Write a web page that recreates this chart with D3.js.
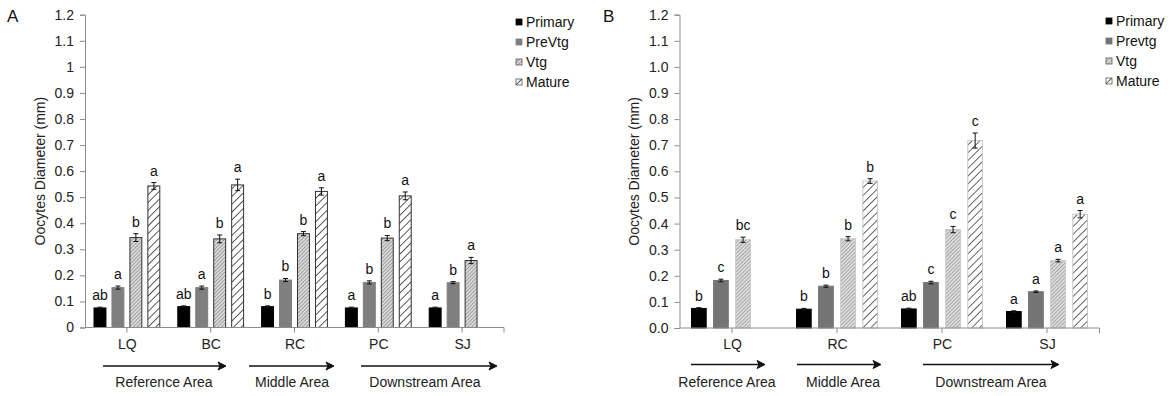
<!DOCTYPE html>
<html>
<head>
<meta charset="utf-8">
<script src="https://cdn.jsdelivr.net/npm/d3@7"></script>
<style>
  body { margin: 0; background: #fff; }
  svg { display: block; font-family: "Liberation Sans", Arial, sans-serif; }
</style>
</head>
<body>
<svg id="chart" width="1170" height="396"></svg>
<script>
// ---- Panel A: five sites ----
const sitesA = ["LQ", "BC", "RC", "PC", "SJ"];
const stagesA = ["Primary", "PreVtg", "Vtg", "Mature"];
const primaryA = [0.075, 0.080, 0.080, 0.075, 0.075];
const preVtgA  = [0.153, 0.153, 0.182, 0.173, 0.172];
const vtgA     = [0.345, 0.340, 0.360, 0.343, 0.257];
const matureA  = [0.543, 0.547, 0.522, 0.505, null];
const primaryErrA = [0.003, 0.003, 0.003, 0.003, 0.003];
const preVtgErrA  = [0.006, 0.006, 0.006, 0.006, 0.004];
const vtgErrA     = [0.015, 0.015, 0.008, 0.010, 0.012];
const matureErrA  = [0.013, 0.022, 0.014, 0.015, null];
const primaryLetA = ["ab", "ab", "b", "a", "a"];
const preVtgLetA  = ["a", "a", "b", "b", "b"];
const vtgLetA     = ["b", "b", "b", "b", "a"];
const matureLetA  = ["a", "a", "a", "a", null];
const yTickLabelsA = ["0", "0.1", "0.2", "0.3", "0.4", "0.5", "0.6", "0.7", "0.8", "0.9", "1", "1.1", "1.2"];
const areasA = ["Reference Area", "Middle Area", "Downstream Area"];

// ---- Panel B: four sites ----
const sitesB = ["LQ", "RC", "PC", "SJ"];
const stagesB = ["Primary", "Prevtg", "Vtg", "Mature"];
const primaryB = [0.075, 0.072, 0.073, 0.063];
const preVtgB  = [0.182, 0.160, 0.174, 0.139];
const vtgB     = [0.338, 0.342, 0.377, 0.258];
const matureB  = [null, 0.563, 0.718, 0.436];
const primaryErrB = [0.003, 0.003, 0.003, 0.003];
const preVtgErrB  = [0.005, 0.004, 0.005, 0.003];
const vtgErrB     = [0.010, 0.008, 0.012, 0.005];
const matureErrB  = [null, 0.009, 0.029, 0.014];
const primaryLetB = ["b", "b", "ab", "a"];
const preVtgLetB  = ["c", "b", "c", "a"];
const vtgLetB     = ["bc", "b", "c", "a"];
const matureLetB  = [null, "b", "c", "a"];
const yTickLabelsB = ["0.0", "0.1", "0.2", "0.3", "0.4", "0.5", "0.6", "0.7", "0.8", "0.9", "1.0", "1.1", "1.2"];
const areasB = ["Reference Area", "Middle Area", "Downstream Area"];

const yTickValues = d3.range(13).map(i => i / 10);

const svg = d3.select("#chart");
const defs = svg.append("defs");

// fine diagonal hatch (Vtg) and wide diagonal hatch (Mature)
function hatch(id, size, stroke, sw, bg) {
  const p = defs.append("pattern")
    .attr("id", id)
    .attr("patternUnits", "userSpaceOnUse")
    .attr("width", size).attr("height", size)
    .attr("patternTransform", "rotate(45)");
  p.append("rect").attr("width", size).attr("height", size).attr("fill", bg);
  p.append("line").attr("x1", 0).attr("y1", 0).attr("x2", 0).attr("y2", size)
    .attr("stroke", stroke).attr("stroke-width", sw);
}
hatch("vtgA", 2.6, "#7a7a7a", 1.2, "#dadada");
hatch("matA", 5.5, "#3c3c3c", 1.7, "#ffffff");
hatch("vtgB", 2.6, "#858585", 1.2, "#dedede");
hatch("matB", 5.5, "#4c4c4c", 1.7, "#ffffff");

function drawPanel(cfg) {
  const g = svg.append("g");
  const y = d3.scaleLinear().domain([0, 1.2]).range([cfg.y0, cfg.y1]);
  const x = d3.scaleBand().domain(cfg.sites).range([cfg.x0, cfg.x1]).paddingInner(0).paddingOuter(0);
  const xs = d3.scaleBand().domain(cfg.stages).range([0, cfg.groupW]).paddingInner(cfg.innerPad);

  // y axis
  const yAxis = d3.axisLeft(y).tickValues(yTickValues)
    .tickFormat((d, i) => cfg.yLabels[i]).tickSize(5).tickPadding(6);
  const ya = g.append("g").attr("transform", `translate(${cfg.x0},0)`).call(yAxis);
  ya.select(".domain").attr("stroke", "#8c8c8c");
  ya.selectAll(".tick line").attr("stroke", "#8c8c8c");
  ya.selectAll(".tick text").attr("font-size", 14).attr("fill", "#222")
    .attr("font-family", "Liberation Sans, Arial, sans-serif");

  g.append("text")
    .attr("transform", `translate(${cfg.ylabX},${(cfg.y0 + cfg.y1) / 2}) rotate(-90)`)
    .attr("text-anchor", "middle").attr("font-size", 14).attr("fill", "#222")
    .text("Oocytes Diameter (mm)");

  // bars
  const series = [
    { key: cfg.stages[0], vals: cfg.primary, errs: cfg.primaryErr, lets: cfg.primaryLet, fill: "#000000", stroke: "#000000" },
    { key: cfg.stages[1], vals: cfg.preVtg, errs: cfg.preVtgErr, lets: cfg.preVtgLet, fill: cfg.grey, stroke: cfg.grey },
    { key: cfg.stages[2], vals: cfg.vtg, errs: cfg.vtgErr, lets: cfg.vtgLet, fill: `url(#${cfg.vtgPat})`, stroke: cfg.hatchStroke },
    { key: cfg.stages[3], vals: cfg.mature, errs: cfg.matureErr, lets: cfg.matureLet, fill: `url(#${cfg.matPat})`, stroke: cfg.hatchStroke }
  ];

  const bw = xs.bandwidth();
  series.forEach(s => {
    const items = cfg.sites.map((site, i) => ({ site, v: s.vals[i], e: s.errs[i], l: s.lets[i] }))
      .filter(d => d.v != null);
    const gx = d => x(d.site) + (x.bandwidth() - cfg.groupW) / 2 + xs(s.key);
    g.selectAll(null).data(items).enter().append("rect")
      .attr("x", d => gx(d) + 0.5)
      .attr("y", d => y(d.v))
      .attr("width", bw - 1)
      .attr("height", d => y(0) - y(d.v))
      .attr("fill", s.fill).attr("stroke", s.stroke).attr("stroke-width", 1);
    // error bars
    const eb = g.selectAll(null).data(items).enter().append("g")
      .attr("stroke", "#111").attr("stroke-width", 1);
    eb.append("line")
      .attr("x1", d => gx(d) + bw / 2).attr("x2", d => gx(d) + bw / 2)
      .attr("y1", d => y(d.v - d.e)).attr("y2", d => y(d.v + d.e));
    eb.append("line")
      .attr("x1", d => gx(d) + bw / 2 - 2.5).attr("x2", d => gx(d) + bw / 2 + 2.5)
      .attr("y1", d => y(d.v + d.e)).attr("y2", d => y(d.v + d.e));
    eb.append("line")
      .attr("x1", d => gx(d) + bw / 2 - 2.5).attr("x2", d => gx(d) + bw / 2 + 2.5)
      .attr("y1", d => y(d.v - d.e)).attr("y2", d => y(d.v - d.e));
    // significance letters
    g.selectAll(null).data(items).enter().append("text")
      .attr("x", d => gx(d) + bw / 2)
      .attr("y", d => y(d.v + d.e) - 7)
      .attr("text-anchor", "middle").attr("font-size", cfg.letSize).attr("fill", "#111")
      .text(d => d.l);
  });

  // x axis: baseline with ticks at site centres and the right end
  g.append("line").attr("x1", cfg.x0).attr("x2", cfg.x1).attr("y1", y(0)).attr("y2", y(0))
    .attr("stroke", "#8c8c8c");
  const tickXs = cfg.sites.map(s => x(s) + x.bandwidth() / 2).concat([cfg.x1]);
  g.selectAll(null).data(tickXs).enter().append("line")
    .attr("x1", d => d).attr("x2", d => d).attr("y1", y(0)).attr("y2", y(0) + 5)
    .attr("stroke", "#8c8c8c");
  g.selectAll(null).data(cfg.sites).enter().append("text")
    .attr("x", d => x(d) + x.bandwidth() / 2 + 0.5).attr("y", 349)
    .attr("text-anchor", "middle").attr("font-size", 14).attr("fill", "#222")
    .text(d => d);

  // area arrows
  cfg.arrows.forEach((a, i) => {
    g.append("line").attr("x1", a[0]).attr("x2", a[1] - 6).attr("y1", cfg.arrowY).attr("y2", cfg.arrowY)
      .attr("stroke", "#111").attr("stroke-width", 1.6);
    g.append("path")
      .attr("d", `M${a[1]},${cfg.arrowY} L${a[1] - 8},${cfg.arrowY - 4} L${a[1] - 6},${cfg.arrowY} L${a[1] - 8},${cfg.arrowY + 4} Z`)
      .attr("fill", "#111").attr("stroke", "#111").attr("stroke-width", 1).attr("stroke-linejoin", "miter");
    g.append("text").attr("x", a[2]).attr("y", 387)
      .attr("text-anchor", "middle").attr("font-size", 14).attr("fill", "#222")
      .text(cfg.areas[i]);
  });

  // legend
  const lg = g.append("g").attr("transform", `translate(${cfg.legX},${cfg.legY})`);
  series.forEach((s, i) => {
    lg.append("rect").attr("x", 0).attr("y", i * 20 - 3).attr("width", 6).attr("height", 6)
      .attr("fill", s.fill).attr("stroke", i < 2 ? s.stroke : "#555").attr("stroke-width", 0.8);
    lg.append("text").attr("x", 10).attr("y", i * 20 + 5)
      .attr("font-size", 14).attr("fill", "#111").text(s.key);
  });

  // panel letter
  g.append("text").attr("x", cfg.panelX).attr("y", 22).attr("font-size", 17).attr("fill", "#111")
    .text(cfg.panel);
}

drawPanel({
  panel: "A", panelX: 7,
  sites: sitesA, stages: stagesA,
  primary: primaryA, preVtg: preVtgA, vtg: vtgA, mature: matureA,
  primaryErr: primaryErrA, preVtgErr: preVtgErrA, vtgErr: vtgErrA, matureErr: matureErrA,
  primaryLet: primaryLetA, preVtgLet: preVtgLetA, vtgLet: vtgLetA, matureLet: matureLetA,
  yLabels: yTickLabelsA, areas: areasA,
  x0: 85, x1: 504, y0: 327.5, y1: 14.7,
  groupW: 66.8, innerPad: 0.28,
  grey: "#7f7f7f", vtgPat: "vtgA", matPat: "matA", hatchStroke: "#333",
  letSize: 14, ylabX: 45,
  arrows: [[103, 226, 164], [249, 334, 292], [361, 497, 425]], arrowY: 366,
  legX: 516, legY: 22
});

drawPanel({
  panel: "B", panelX: 603,
  sites: sitesB, stages: stagesB,
  primary: primaryB, preVtg: preVtgB, vtg: vtgB, mature: matureB,
  primaryErr: primaryErrB, preVtgErr: preVtgErrB, vtgErr: vtgErrB, matureErr: matureErrB,
  primaryLet: primaryLetB, preVtgLet: preVtgLetB, vtgLet: vtgLetB, matureLet: matureLetB,
  yLabels: yTickLabelsB, areas: areasB,
  x0: 679.5, x1: 1099.5, y0: 328, y1: 14.7,
  groupW: 82, innerPad: 0.29,
  grey: "#747474", vtgPat: "vtgB", matPat: "matB", hatchStroke: "#c8c8c8",
  letSize: 14, ylabX: 639,
  arrows: [[691, 765, 727], [797, 881, 843], [923, 1059, 991]], arrowY: 364.5,
  legX: 1106, legY: 21
});
</script>
</body>
</html>
